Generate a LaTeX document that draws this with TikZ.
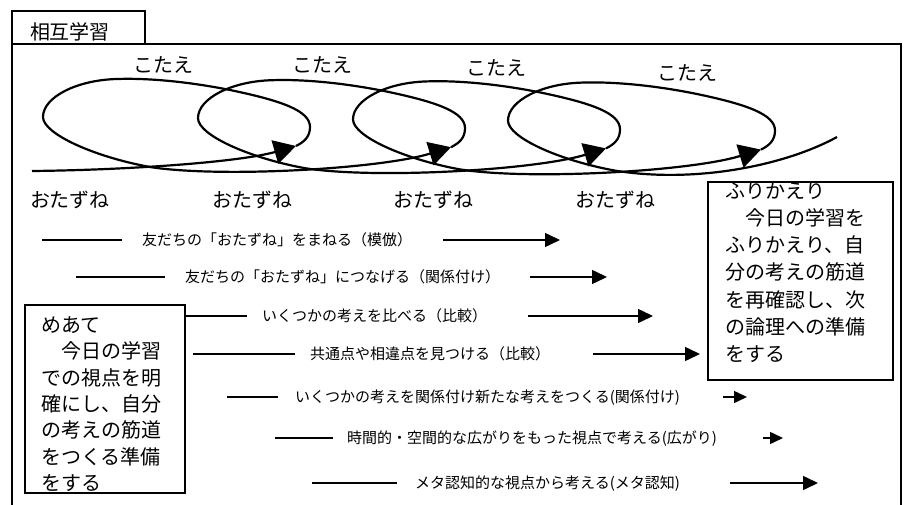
\documentclass[tikz,border=0pt]{standalone}
\usepackage{fontspec}
\setmainfont{Noto Sans CJK JP}
\usetikzlibrary{arrows.meta}
\begin{document}
\begin{tikzpicture}[x=1pt,y=-1pt,
  big/.style={font=\fontsize{20pt}{24pt}\selectfont, inner sep=0pt, text height=17.6pt, text depth=2.4pt},
  small/.style={font=\fontsize{15pt}{18pt}\selectfont, inner sep=0pt, anchor=west, text height=13.2pt, text depth=1.8pt},
  boxframe/.style={draw, line width=1.5pt, inner sep=0pt},
  coil/.style={line width=2.2pt},
  coilarrow/.style={coil, -{Triangle[length=22pt,width=24pt]}},
  rowline/.style={line width=1.5pt},
  rowarrow/.style={line width=1.5pt, -{Triangle[length=15pt,width=14pt]}},
  rowarrowsm/.style={line width=1.5pt, -{Triangle[length=13pt,width=12pt]}},
]
\clip (0,0) rectangle (908,505);
% frame and tab
\coordinate (fbl) at (12,520);
\coordinate (ftl) at (12,44);
\coordinate (ftr) at (901,44);
\coordinate (fbr) at (901,520);
\draw[line width=1.5pt] (fbl) -- (ftl) -- (ftr) -- (fbr);
\node[boxframe, minimum width=133pt, minimum height=33pt] (tab) at (78.5,27.5) {};
\node[big] (title) at (70,31.5) {相互学習};

% labels
\node[big] (k1) at (163,65) {こたえ};
\node[big] (k2) at (322,65) {こたえ};
\node[big] (k3) at (496,68) {こたえ};
\node[big] (k4) at (687,73) {こたえ};
\node[big] (o1) at (70,200) {おたずね};
\node[big] (o2) at (252,200) {おたずね};
\node[big] (o3) at (433,200) {おたずね};
\node[big] (o4) at (615,200) {おたずね};

% coil
\draw[coilarrow] (32,171) .. controls (130,170) and (240,162) .. (296,146);
\foreach \k in {0,1,2,3} {
  \begin{scope}[shift={(155*\k,1.2*\k)}]
    \draw[coil] (296,146) .. controls (304,142) and (310,137) .. (310,127)
      .. controls (310,111) and (283,101) .. (230,90)
      .. controls (185,81) and (145,78) .. (117,79)
      .. controls (77,80) and (43,97) .. (43,117)
      .. controls (43,134) and (95,157) .. (150,167);
  \end{scope}
}
\foreach \k in {0,1,2} {
  \begin{scope}[shift={(155*\k,1.2*\k)}]
    \draw[coilarrow] (150,167) .. controls (220,178) and (380,169) .. (451,147.2);
  \end{scope}
}
\begin{scope}[shift={(465,3.6)}]
  \draw[coil] (150,167) .. controls (230,180) and (320,162) .. (372,133.4);
\end{scope}

% boxes
\node[boxframe, minimum width=160pt, minimum height=188pt] (meate) at (105,399) {};
\node[boxframe, minimum width=185pt, minimum height=198pt] (furi) at (800.5,281) {};
\foreach \t [count=\i] in {めあて,　今日の学習,での視点を明,確にし、自分,の考えの筋道,をつくる準備,をする}
  \node[big, anchor=west] (m\i) at (41,{325+26.3*(\i-1)}) {\t};
\foreach \t [count=\i] in {ふりかえり,　今日の学習を,ふりかえり、自,分の考えの筋道,を再確認し、次,の論理への準備,をする}
  \node[big, anchor=west] (f\i) at (725,{191+27.1*(\i-1)}) {\t};

% rows
\node[small] (r1) at (142,240) {友だちの「おたずね」をまねる（模倣）};
\node[small] (r2) at (185,277) {友だちの「おたずね」につなげる（関係付け）};
\node[small] (r3) at (262,316) {いくつかの考えを比べる（比較）};
\node[small] (r4) at (310,354) {共通点や相違点を見つける（比較）};
\node[small] (r5) at (295,397) {いくつかの考えを関係付け新たな考えをつくる(関係付け)};
\node[small] (r6) at (347,438) {時間的・空間的な広がりをもった視点で考える(広がり)};
\node[small] (r7) at (415,483) {メタ認知的な視点から考える(メタ認知)};

\coordinate (a1) at (42,240);  \coordinate (b1) at (122,240);
\coordinate (c1) at (443,240); \coordinate (d1) at (560,240);
\coordinate (a2) at (76,277);  \coordinate (b2) at (165,277);
\coordinate (c2) at (530,277); \coordinate (d2) at (607,277);
\coordinate (b3) at (247,316);
\coordinate (c3) at (528,316); \coordinate (d3) at (653,316);
\coordinate (a4) at (193,354); \coordinate (b4) at (295,354);
\coordinate (c4) at (593,354); \coordinate (d4) at (700,354);
\coordinate (a5) at (227,397); \coordinate (b5) at (278,397);
\coordinate (c5) at (723,397); \coordinate (d5) at (747,397);
\coordinate (a6) at (275,438); \coordinate (b6) at (333,438);
\coordinate (c6) at (763,438); \coordinate (d6) at (783,438);
\coordinate (a7) at (312,483); \coordinate (b7) at (397,483);
\coordinate (c7) at (730,483); \coordinate (d7) at (818,483);

\draw[rowline] (a1) -- (b1); \draw[rowarrow] (c1) -- (d1);
\draw[rowline] (a2) -- (b2); \draw[rowarrow] (c2) -- (d2);
\draw[rowline] (meate.east |- b3) -- (b3); \draw[rowarrow] (c3) -- (d3);
\draw[rowline] (a4) -- (b4); \draw[rowarrow] (c4) -- (d4);
\draw[rowline] (a5) -- (b5); \draw[rowarrowsm] (c5) -- (d5);
\draw[rowline] (a6) -- (b6); \draw[rowarrowsm] (c6) -- (d6);
\draw[rowline] (a7) -- (b7); \draw[rowarrow] (c7) -- (d7);
\end{tikzpicture}
\end{document}
